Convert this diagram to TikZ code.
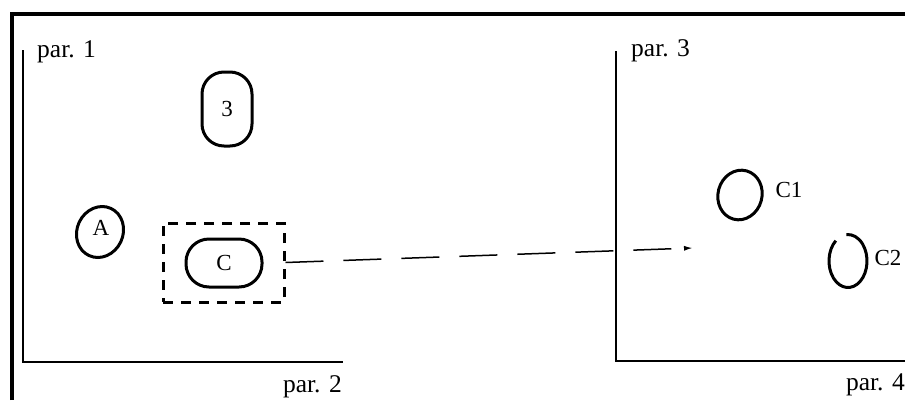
\documentclass[tikz,border=0pt]{standalone}
\usepackage{fontspec}
\setmainfont{Liberation Serif}
\usetikzlibrary{arrows.meta,shapes.geometric}
\begin{document}
\begin{tikzpicture}[x=1pt,y=-1pt,
  frame/.style={line width=3.2pt},
  axisline/.style={line width=2.6pt},
  blob/.style={draw,line width=3pt,inner sep=0pt},
  lab/.style={font=\fontsize{23}{23}\selectfont,inner sep=0pt},
  parlab/.style={font=\fontsize{25.5}{25}\selectfont,inner sep=0pt},
  dashbox/.style={draw,line width=3pt,dash pattern=on 10pt off 8pt,inner sep=0pt},
  conn/.style={line width=1.5pt,dash pattern=on 38pt off 20pt,-{Latex[length=9pt,width=5pt]}}
]
\useasboundingbox (0,0) rectangle (905,400);
% frame
\draw[frame] (12,400) -- (12,14) -- (905,14);
% left axes
\draw[axisline] (23,50) -- (23,362) -- (343,362);
% right axes
\draw[axisline] (616,51) -- (616,361) -- (905,361);
% axis labels
\node[parlab,anchor=base west] (p1) at (37,57) {par. 1};
\node[parlab,anchor=base east] (p2) at (342,392) {par. 2};
\node[parlab,anchor=base west] (p3) at (631,56) {par. 3};
\node[parlab,anchor=base east] (p4) at (905,390) {par. 4};
% left clusters
\node[blob,rounded corners=22pt,minimum width=50pt,minimum height=74pt,font=\fontsize{23}{23}\selectfont] (n3) at (227,109) {3};
\node[blob,ellipse,rotate=-25,minimum width=46pt,minimum height=52pt] (nA) at (100,232) {};
\node[lab] (labA) at (101,228) {A};
\node[blob,rounded corners=23pt,minimum width=76pt,minimum height=48pt,font=\fontsize{23}{23}\selectfont] (nC) at (224,263) {C};
\node[dashbox,minimum width=121pt,minimum height=79pt] (box) at (223.5,262.5) {};
% right clusters
\node[blob,ellipse,rotate=-15,minimum width=44pt,minimum height=50pt] (nC1) at (740,195) {};
\node[lab] (labC1) at (789,190) {C1};
\node[ellipse,inner sep=0pt,minimum width=38pt,minimum height=53pt] (nC2) at (848,261) {};
\draw[line width=3pt] ([shift={(130:19pt and 26.5pt)}]nC2.center) arc[start angle=130,end angle=455,x radius=19pt,y radius=26.5pt];
\node[lab] (labC2) at (888,258) {C2};
% connector
\coordinate (tip) at (693,248);
\draw[conn] (box.east) -- (tip);
\end{tikzpicture}
\end{document}
